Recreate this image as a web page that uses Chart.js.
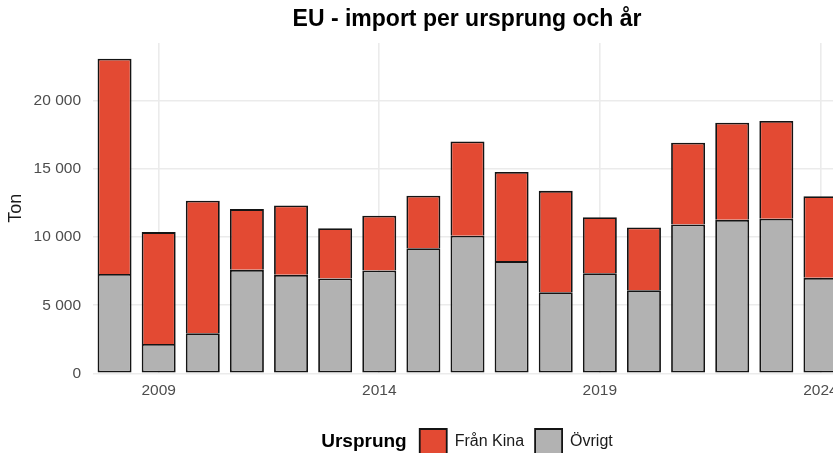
<!DOCTYPE html>
<html>
<head>
<meta charset="utf-8">
<script src="https://cdn.jsdelivr.net/npm/chart.js@4.4.1/dist/chart.umd.min.js"></script>
<style>
  html, body { margin: 0; padding: 0; background: #ffffff; overflow: hidden; }
  #wrap { width: 833px; height: 453px; overflow: hidden; }
</style>
</head>
<body>
<div id="wrap"><canvas id="importChart" width="934" height="464"></canvas></div>
<script>
// ====================================================
// Data (ton per year)
// ====================================================
const years = ['2008', '2009', '2010', '2011', '2012', '2013', '2014', '2015', '2016',
               '2017', '2018', '2019', '2020', '2021', '2022', '2023', '2024'];
const ovrigt = [7300, 2150, 2940, 7600, 7230, 6960, 7550, 9190, 10100,
                8240, 5950, 7350, 6100, 10930, 11270, 11350, 7010];
const franKina = [15800, 8220, 9730, 4460, 5090, 3700, 4020, 3850, 6930,
                  6550, 7450, 4120, 4610, 6000, 7130, 7180, 6000];
const shownYears = ['2009', '2014', '2019', '2024'];
const yTicks = [0, 5000, 10000, 15000, 20000];

const FONT = '"Liberation Sans", Arial, Helvetica, sans-serif';
const GRID = '#ebebeb';

function formatTon(v) {
    return String(v).replace(/\B(?=(\d{3})+(?!\d))/g, ' ');
}

// ====================================================
// Legend title "Ursprung" drawn inline, left of the items
// ====================================================
const legendTitlePlugin = {
    id: 'legendTitle',
    afterLayout(chart) {
        const legend = chart.legend;
        const ctx = chart.ctx;
        ctx.save();
        ctx.font = 'bold 19px ' + FONT;
        const w = ctx.measureText('Ursprung').width;
        ctx.restore();
        const shift = (w + 13) / 2;
        legend.left += shift;
        legend.right += shift;
    },
    afterDraw(chart) {
        const legend = chart.legend;
        const pad = legend.options.labels.padding;
        const itemsLeft = (legend.left + pad + legend.right - legend.lineWidths[0]) / 2;
        const y = legend.top + pad + 25 / 2;
        const ctx = chart.ctx;
        ctx.save();
        ctx.font = 'bold 19px ' + FONT;
        ctx.fillStyle = '#000000';
        ctx.textAlign = 'right';
        ctx.textBaseline = 'middle';
        ctx.fillText('Ursprung', itemsLeft - 13, y);
        ctx.restore();
    }
};

// ====================================================
// Build chart
// ====================================================
const chart = new Chart(document.getElementById('importChart'), {
    type: 'bar',
    data: {
        labels: years,
        datasets: [{
            label: 'Övrigt',
            data: ovrigt,
            backgroundColor: '#b2b2b2',
            borderColor: '#141414',
            borderWidth: 1.8,
            borderSkipped: false
        }, {
            label: 'Från Kina',
            data: franKina,
            backgroundColor: '#e34a33',
            borderColor: '#141414',
            borderWidth: 1.8,
            borderSkipped: 'start' // junction line comes from the grey bar's top edge
        }]
    },
    options: {
        responsive: false,
        animation: false,
        devicePixelRatio: 1,
        datasets: {
            bar: { categoryPercentage: 1.0, barPercentage: 0.77 }
        },
        layout: { padding: 0 },
        plugins: {
            title: {
                display: true,
                text: 'EU - import per ursprung och år',
                color: '#000000',
                font: { family: FONT, size: 23, weight: 'bold' },
                padding: { top: 5.7, bottom: 9.7 }
            },
            legend: {
                position: 'bottom',
                reverse: true,
                labels: {
                    boxWidth: 27,
                    boxHeight: 25,
                    padding: 11,
                    color: '#1a1a1a',
                    font: { family: FONT, size: 16 }
                }
            },
            tooltip: { enabled: false }
        },
        scales: {
            x: {
                stacked: true,
                grid: {
                    offset: false,
                    drawTicks: false,
                    lineWidth: 1.6,
                    color: (c) => shownYears.includes(years[c.index]) ? GRID : 'rgba(0,0,0,0)'
                },
                border: { display: false },
                ticks: {
                    autoSkip: false,
                    maxRotation: 0,
                    padding: 8.4,
                    color: '#4d4d4d',
                    font: { family: FONT, size: 15.5 },
                    callback: (v, i) => shownYears.includes(years[i]) ? years[i] : ''
                },
                afterFit: (s) => { s.height = 44.7; }
            },
            y: {
                stacked: true,
                min: 0,
                max: 24260,
                grid: { drawTicks: false, lineWidth: 1.6, color: GRID },
                border: { display: false },
                afterBuildTicks: (s) => { s.ticks = yTicks.map(v => ({ value: v })); },
                ticks: {
                    padding: 11.5,
                    color: '#4d4d4d',
                    font: { family: FONT, size: 15.5 },
                    callback: (v) => formatTon(v)
                },
                title: {
                    display: true,
                    text: 'Ton',
                    color: '#1a1a1a',
                    font: { family: FONT, size: 18 },
                    padding: { top: 5, bottom: 0 }
                },
                afterFit: (s) => { s.width = 92.5; }
            },
            yRight: {
                type: 'linear',
                position: 'right',
                display: true,
                grid: { display: false },
                border: { display: false },
                ticks: { display: false },
                afterFit: (s) => { s.width = 91.5; }
            }
        }
    },
    plugins: [legendTitlePlugin]
});
</script>
</body>
</html>
